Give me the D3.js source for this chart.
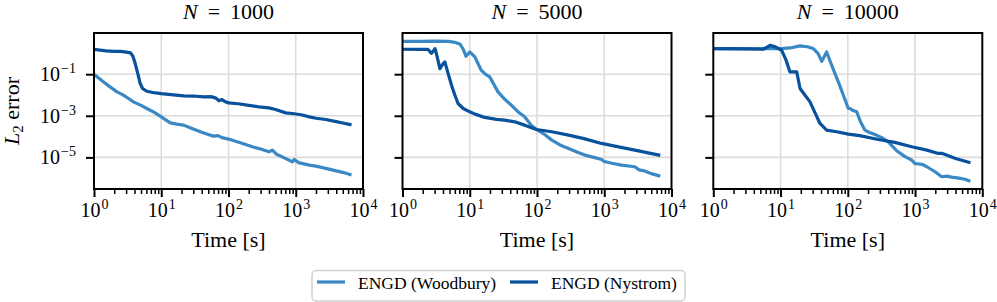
<!DOCTYPE html>
<html><head><meta charset="utf-8">
<script src="https://cdn.jsdelivr.net/npm/d3@7"></script>
<style>
body{margin:0;background:#fff;}
svg{display:block;}
text{font-family:"Liberation Serif","Times New Roman",serif;fill:#000;}
</style>
</head><body>
<svg id="chart" width="997" height="302"></svg>
<script>
// ---------- data ----------
const panelTitles = ["1000", "5000", "10000"];
const seriesNames = ["ENGD (Woodbury)", "ENGD (Nystrom)"];
const seriesColors = ["#3a89c5", "#08519c"];

// N = 1000
const t_wood_1000 = [1, 1.3, 1.73, 2.2, 2.74, 3.3, 3.86, 5, 6.1, 8, 10, 13.6, 17, 21.5, 28, 38, 50, 60, 70, 80, 100, 150, 226, 300, 400, 450, 520, 700, 891, 950, 1100, 1590, 2000, 2800, 4000, 5000, 6400];
const e_wood_1000 = [0.1, 0.0501, 2.45e-2, 1.41e-2, 9.77e-3, 6.61e-3, 4.68e-3, 3.16e-3, 2.24e-3, 1.41e-3, 8.91e-4, 4.57e-4, 3.98e-4, 3.55e-4, 2.51e-4, 1.70e-4, 1.26e-4, 1.05e-4, 1.12e-4, 8.91e-5, 7.59e-5, 5.01e-5, 3.24e-5, 2.51e-5, 1.86e-5, 2.24e-5, 1.41e-5, 8.91e-6, 6.17e-6, 7.94e-6, 5.62e-6, 4.27e-6, 3.80e-6, 2.95e-6, 2.24e-6, 1.91e-6, 1.51e-6];
const t_nys_1000 = [1, 1.5, 2, 2.5, 3, 3.5, 3.8, 4.1, 4.5, 4.86, 5.3, 6.1, 7.5, 10, 14, 21.5, 30, 43, 55, 65, 72, 80, 90, 100, 140, 200, 283, 400, 500, 710, 891, 1200, 1600, 2000, 2800, 4000, 5000, 6400];
const e_nys_1000 = [1.55, 1.32, 1.26, 1.26, 1.15, 1.05, 0.708, 0.324, 0.1, 0.0355, 0.02, 0.0151, 0.0132, 0.0117, 0.0105, 9.12e-3, 8.91e-3, 8.13e-3, 8.32e-3, 7.08e-3, 5.25e-3, 6.03e-3, 4.68e-3, 4.17e-3, 3.80e-3, 3.16e-3, 2.69e-3, 2.40e-3, 2.0e-3, 1.38e-3, 1.29e-3, 1.12e-3, 8.91e-4, 7.59e-4, 6.61e-4, 5.25e-4, 4.47e-4, 3.80e-4];

// N = 5000
const t_wood_5000 = [1, 2, 3, 4.8, 6, 7.2, 8, 8.8, 10, 11.9, 14.8, 17, 19.8, 26.3, 33, 41.5, 52, 65.6, 82, 98, 130, 166, 220, 295, 400, 516, 700, 912, 1000, 1300, 1807, 2850, 3300, 4000, 5000, 6460];
const e_wood_5000 = [3.80, 3.80, 3.89, 3.80, 3.39, 2.75, 1.58, 0.724, 1.17, 0.676, 0.155, 0.1, 0.0741, 0.0141, 6.31e-3, 3.24e-3, 1.58e-3, 8.91e-4, 3.55e-4, 2.19e-4, 1.26e-4, 6.76e-5, 3.98e-5, 2.69e-5, 1.78e-5, 1.29e-5, 1e-5, 7.94e-6, 6.31e-6, 5.25e-6, 4.27e-6, 3.55e-6, 2.51e-6, 2.24e-6, 1.66e-6, 1.32e-6];
const t_nys_5000 = [1, 2, 2.4, 2.7, 3.05, 3.3, 3.6, 4.0, 4.27, 4.7, 5.36, 6.0, 6.7, 8, 10, 12, 16.7, 25, 33, 46.6, 65.6, 98, 166, 295, 500, 912, 1500, 2850, 6460];
const e_nys_5000 = [1.58, 1.55, 1.55, 1.0, 1.70, 0.631, 0.186, 0.316, 0.389, 0.126, 0.0295, 0.01, 3.89e-3, 2.24e-3, 1.55e-3, 1.20e-3, 8.32e-4, 6.76e-4, 6.17e-4, 5.13e-4, 3.55e-4, 2.19e-4, 1.70e-4, 1.17e-4, 7.94e-5, 4.68e-5, 3.39e-5, 2.24e-5, 1.29e-5];

// N = 10000
const t_wood_10000 = [1, 5, 10.4, 15, 19.5, 25, 30.7, 36, 41, 48.5, 55, 64.5, 75, 86, 101.7, 108, 120, 136, 155, 180, 210, 254, 320, 400, 533, 700, 891, 1000, 1260, 1500, 1980, 2490, 3000, 3500, 4500, 5500, 6330];
const e_wood_10000 = [1.70, 1.70, 1.70, 1.91, 2.29, 2.09, 1.70, 1.0, 0.417, 1.17, 0.398, 0.107, 0.0316, 9.77e-3, 2.24e-3, 2.24e-3, 1.78e-3, 1.55e-3, 5.01e-4, 2.04e-4, 1.58e-4, 1.26e-4, 8.91e-5, 5.62e-5, 2.09e-5, 1.12e-5, 7.41e-6, 5.01e-6, 4.68e-6, 3.55e-6, 2.04e-6, 1.17e-6, 1.26e-6, 1.12e-6, 1e-6, 8.91e-7, 7.59e-7];
const t_nys_10000 = [1, 3, 5.5, 6.3, 7, 8.5, 10.4, 12, 13.8, 17.4, 19.5, 23, 27.4, 33, 38.6, 48.5, 68.4, 101.7, 150, 284, 500, 891, 1500, 2220, 2500, 4000, 6330];
const e_nys_10000 = [1.70, 1.66, 1.58, 2.0, 2.45, 2.0, 1.41, 0.501, 0.129, 0.129, 0.0204, 0.01, 4.68e-3, 1.26e-3, 4.27e-4, 2.04e-4, 1.70e-4, 1.32e-4, 1.12e-4, 7.24e-5, 5.25e-5, 3.24e-5, 2.24e-5, 1.55e-5, 1.58e-5, 8.91e-6, 5.75e-6];

const xTickValues = [1, 10, 100, 1000, 10000];
const xTickExps = ["0", "1", "2", "3", "4"];
const yTickValues = [1e-1, 1e-3, 1e-5];
const yTickExps = ["\u22121", "\u22123", "\u22125"];

const panels = [
  {title: panelTitles[0], series: [{t: t_wood_1000, e: e_wood_1000}, {t: t_nys_1000, e: e_nys_1000}]},
  {title: panelTitles[1], series: [{t: t_wood_5000, e: e_wood_5000}, {t: t_nys_5000, e: e_nys_5000}]},
  {title: panelTitles[2], series: [{t: t_wood_10000, e: e_wood_10000}, {t: t_nys_10000, e: e_nys_10000}]}
];

// ---------- layout ----------
const svg = d3.select("#chart");
const lefts = [94, 402.5, 713.3];
const pw = 269;
const yTop = 33, yBot = 189;
const y = d3.scaleLog().domain([Math.pow(10, -6.52), Math.pow(10, 0.98)]).range([yBot, yTop]);
const minorX = [];
[1, 10, 100, 1000].forEach(d => { for (let k = 2; k <= 9; k++) minorX.push(d * k); });

function powLabel(sel, exp, baseSize, supSize, supDy) {
  sel.text(null);
  sel.append("tspan").text("10").attr("font-size", baseSize);
  sel.append("tspan").text(exp).attr("font-size", supSize).attr("dy", supDy).attr("dx", 1);
}

panels.forEach((p, i) => {
  const L = lefts[i];
  const x = d3.scaleLog().domain([1, 1e4]).range([L, L + pw]);
  const g = svg.append("g");

  g.append("clipPath").attr("id", "clip" + i)
    .append("rect").attr("x", L).attr("y", yTop).attr("width", pw).attr("height", yBot - yTop);

  // grid
  const grid = g.append("g").attr("stroke", "#dcdcdc").attr("stroke-width", 1.6);
  xTickValues.slice(1, -1).forEach(v => {
    grid.append("line").attr("x1", x(v)).attr("x2", x(v)).attr("y1", yTop).attr("y2", yBot);
  });
  yTickValues.forEach(v => {
    grid.append("line").attr("x1", L).attr("x2", L + pw).attr("y1", y(v)).attr("y2", y(v));
  });

  // lines
  const lg = g.append("g").attr("clip-path", "url(#clip" + i + ")");
  p.series.forEach((s, j) => {
    const pts = s.t.map((t, k) => [t, s.e[k]]);
    const line = d3.line().x(d => x(d[0])).y(d => y(d[1]));
    lg.append("path").attr("d", line(pts)).attr("fill", "none")
      .attr("stroke", seriesColors[j]).attr("stroke-width", 3.2)
      .attr("stroke-linejoin", "round").attr("stroke-linecap", "square");
  });

  // spines
  g.append("rect").attr("x", L).attr("y", yTop).attr("width", pw).attr("height", yBot - yTop)
    .attr("fill", "none").attr("stroke", "#000").attr("stroke-width", 2);

  // x axis major
  const xa = g.append("g").attr("transform", `translate(0,${yBot})`)
    .call(d3.axisBottom(x).tickValues(xTickValues).tickSize(8).tickFormat(""));
  xa.select(".domain").remove();
  xa.selectAll(".tick line").attr("stroke", "#000").attr("stroke-width", 2);
  xa.selectAll(".tick text").each(function(d, k) {
    const t = d3.select(this).attr("y", null).attr("dy", null)
      .attr("transform", "translate(0,28)").attr("font-size", 20);
    powLabel(t, xTickExps[k], 20, 14, -8);
  });
  // x axis minor
  const xm = g.append("g").attr("transform", `translate(0,${yBot})`)
    .call(d3.axisBottom(x).tickValues(minorX).tickSize(5).tickFormat(""));
  xm.select(".domain").remove();
  xm.selectAll(".tick line").attr("stroke", "#000").attr("stroke-width", 1.5);

  // y axis
  const ya = g.append("g").attr("transform", `translate(${L},0)`)
    .call(d3.axisLeft(y).tickValues(yTickValues).tickSize(8).tickFormat(""));
  ya.select(".domain").remove();
  ya.selectAll(".tick line").attr("stroke", "#000").attr("stroke-width", 2);
  ya.selectAll(".tick text").remove();
  if (i === 0) {
    yTickValues.forEach((v, k) => {
      const t = g.append("text").attr("x", 76).attr("y", y(v) + 7)
        .attr("text-anchor", "end").attr("font-size", 20);
      powLabel(t, yTickExps[k], 20, 14, -8);
    });
  }

  // title
  const tt = g.append("text").attr("x", L + pw / 2).attr("y", 19)
    .attr("text-anchor", "middle").attr("font-size", 22);
  tt.append("tspan").attr("font-style", "italic").text("N");
  tt.append("tspan").attr("dx", 10).text("=");
  tt.append("tspan").attr("dx", 10).text(p.title);

  // x label
  g.append("text").attr("x", L + pw / 2).attr("y", 247)
    .attr("text-anchor", "middle").attr("font-size", 22).text("Time [s]");
});

// y label
const yl = svg.append("text").attr("transform", "translate(18.5,111) rotate(-90)")
  .attr("text-anchor", "middle").attr("font-size", 22);
yl.append("tspan").attr("font-style", "italic").text("L");
yl.append("tspan").attr("font-size", 15).attr("dy", 4).text("2");
yl.append("tspan").attr("dy", -4).text(" error");

// legend
const leg = svg.append("g");
leg.append("rect").attr("x", 312).attr("y", 270.5).attr("width", 373).attr("height", 30.5)
  .attr("rx", 4).attr("fill", "#fff").attr("stroke", "#d0d0d0").attr("stroke-width", 1.5);
const legX = [[317, 345, 358], [510, 538, 551]];
seriesNames.forEach((n, j) => {
  leg.append("line").attr("x1", legX[j][0]).attr("x2", legX[j][1]).attr("y1", 282).attr("y2", 282)
    .attr("stroke", seriesColors[j]).attr("stroke-width", 3.2);
  leg.append("text").attr("x", legX[j][2]).attr("y", 289).attr("font-size", 17.5).text(n);
});
</script>
</body></html>
